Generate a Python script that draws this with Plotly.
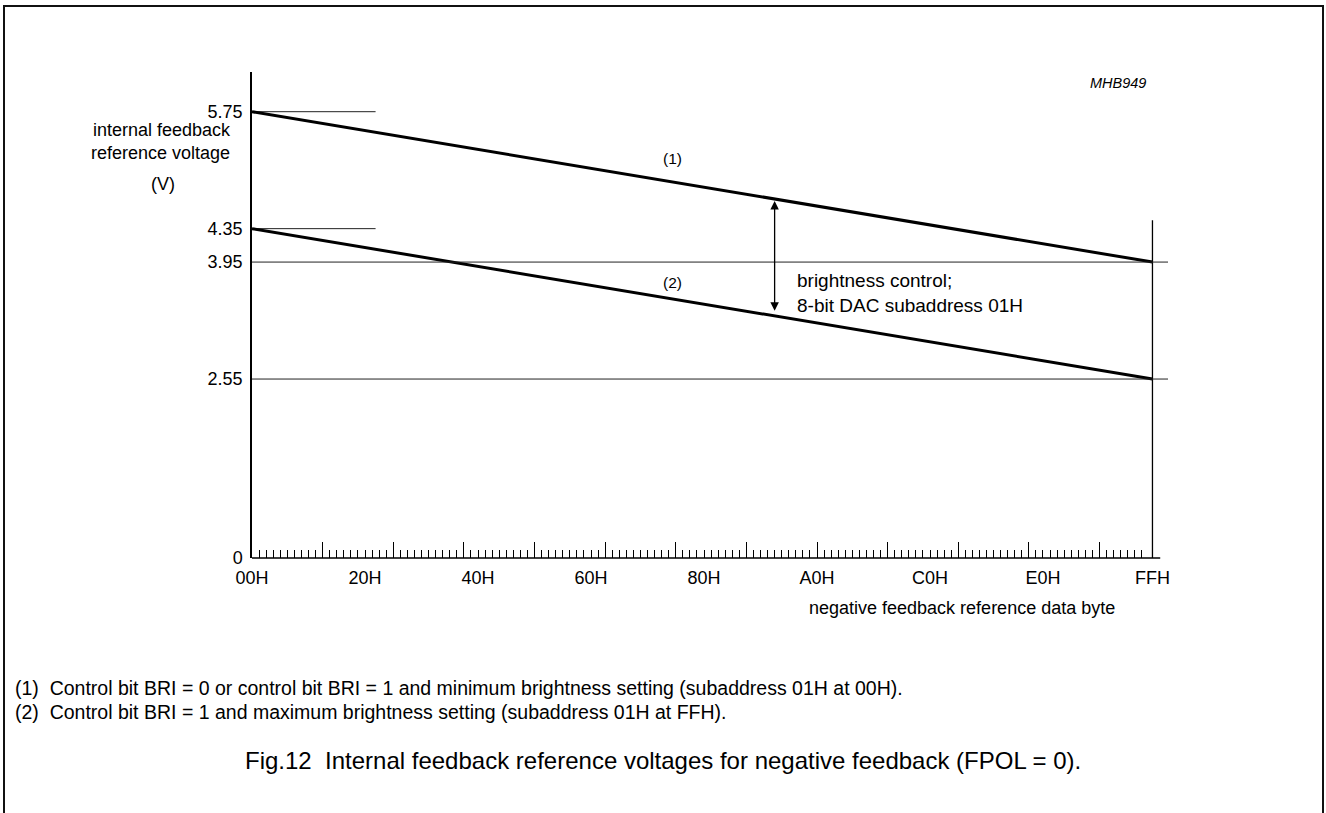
import plotly.graph_objects as go

# ---------------- data ----------------
codes = [0, 255]                      # 00H .. FFH
curve1_v = [5.75, 3.95]               # (1)
curve2_v = [4.35, 2.55]               # (2)
long_ref_levels = [3.95, 2.55]        # long horizontal reference lines
short_ref_levels = [5.75, 4.35]       # short start-level marker lines
y_tick_vals = [5.75, 4.35, 3.95, 2.55]
y_tick_text = ["5.75", "4.35", "3.95", "2.55"]
x_label_vals = [0, 32, 64, 96, 128, 160, 192, 224, 255]
x_label_text = ["00H", "20H", "40H", "60H", "80H", "A0H", "C0H", "E0H", "FFH"]
major_ticks = list(range(0, 241, 20))
minor_ticks = [v for v in range(2, 253, 2) if v % 20]
arrow_code = 148
arrow_top, arrow_bottom = 4.68, 3.35

# ---------------- geometry / style ----------------
W, H = 1326, 813
PL, PR, PT, PB = 252, 1168, 72, 557.7
Y0 = 0.408          # axis-break position carrying the "0" label
Y_TOP = 6.225
X_MAX = 259.4
FONT = "Liberation Sans, Arial, sans-serif"
THIN = "#222222"
AX_FS = 18

def px_x(px):
    return (px - PL) / (PR - PL)

def px_y(py):
    return (PB - py) / (PB - PT)

fig = go.Figure()

# long reference lines
for lv in long_ref_levels:
    fig.add_trace(go.Scatter(x=[0, X_MAX], y=[lv, lv], mode="lines",
                             line=dict(color=THIN, width=1), hoverinfo="skip",
                             showlegend=False, xaxis="x2", yaxis="y"))
# short marker lines
for lv in short_ref_levels:
    fig.add_trace(go.Scatter(x=[0, 35], y=[lv, lv], mode="lines",
                             line=dict(color=THIN, width=1), hoverinfo="skip",
                             showlegend=False))
# vertical line at FFH
fig.add_trace(go.Scatter(x=[codes[1], codes[1]], y=[4.452, Y0], mode="lines",
                         line=dict(color="black", width=1.3), hoverinfo="skip",
                         showlegend=False))
# the two curves
fig.add_trace(go.Scatter(x=codes, y=curve1_v, mode="lines",
                         line=dict(color="black", width=3), showlegend=False))
fig.add_trace(go.Scatter(x=codes, y=curve2_v, mode="lines",
                         line=dict(color="black", width=3), showlegend=False))

def note(px, py, text, size, xanchor="center", align="center"):
    return dict(x=px_x(px), y=px_y(py), xref="paper", yref="paper",
                xanchor=xanchor, yanchor="middle", align=align, text=text,
                showarrow=False, font=dict(size=size, color="black", family=FONT))

annotations = [
    dict(x=arrow_code, y=arrow_top, ax=arrow_code, ay=arrow_bottom,
         xref="x", yref="y", axref="x", ayref="y", text="",
         showarrow=True, arrowhead=2, arrowside="end+start", arrowsize=1.3,
         arrowwidth=1.3, arrowcolor="black"),
    dict(x=119.2, y=5.195, xref="x", yref="y", xanchor="center", yanchor="middle",
         text="(1)", showarrow=False, font=dict(size=15.5, color="black", family=FONT)),
    dict(x=119.2, y=3.71, xref="x", yref="y", xanchor="center", yanchor="middle",
         text="(2)", showarrow=False, font=dict(size=15.5, color="black", family=FONT)),
    dict(x=153.7, y=3.578, xref="x", yref="y", xanchor="left", yanchor="middle",
         align="left", text="brightness control;<br>8-bit DAC subaddress 01H",
         showarrow=False, font=dict(size=19, color="black", family=FONT)),
    note(1148, 83, "<i>MHB949</i>", 14.5, xanchor="right"),
    note(233, 141.5, "internal feedback<br>reference voltage", AX_FS,
         xanchor="right", align="right"),
    note(163, 184, "(V)", AX_FS),
    note(962, 608, "negative feedback reference data byte", AX_FS),
    note(13, 688, "(1)&nbsp;&nbsp;Control bit BRI = 0 or control bit BRI = 1 and minimum brightness setting (subaddress 01H at 00H).",
         19.5, xanchor="left", align="left"),
    note(13, 712, "(2)&nbsp;&nbsp;Control bit BRI = 1 and maximum brightness setting (subaddress 01H at FFH).",
         19.5, xanchor="left", align="left"),
    note(663, 760, "Fig.12  Internal feedback reference voltages for negative feedback (FPOL = 0).", 24),
]

shapes = [
    # x-axis baseline
    dict(type="line", xref="x", yref="paper", x0=0, x1=257.2, y0=0, y1=0,
         line=dict(color="black", width=1.5), layer="above"),
    # outer frame
    dict(type="rect", xref="paper", yref="paper",
         x0=px_x(4), x1=px_x(1323), y0=px_y(830), y1=px_y(6),
         line=dict(color="#111111", width=2)),
]

fig.update_layout(
    width=W, height=H,
    margin=dict(l=PL, r=W - PR, t=PT, b=H - PB, pad=0),
    paper_bgcolor="white", plot_bgcolor="white",
    font=dict(family=FONT, size=AX_FS, color="black"),
    showlegend=False,
    xaxis=dict(range=[0, X_MAX], showgrid=False, zeroline=False, showline=False,
               ticks="inside", tickmode="array", tickvals=major_ticks, ticklen=16,
               tickwidth=1, tickcolor="black", showticklabels=False,
               minor=dict(tickmode="array", tickvals=minor_ticks, ticks="inside",
                          ticklen=8, tickwidth=1, tickcolor="black")),
    xaxis2=dict(range=[0, X_MAX], overlaying="x", anchor="y", side="bottom",
                showgrid=False, zeroline=False, showline=False, ticks="",
                tickmode="array", tickvals=x_label_vals, ticktext=x_label_text,
                tickfont=dict(size=AX_FS, color="black", family=FONT),
                ticklabelstandoff=7),
    yaxis=dict(range=[Y0, Y_TOP], showgrid=False, zeroline=False, showline=True,
               linecolor="black", linewidth=1.5, ticks="",
               tickmode="array", tickvals=y_tick_vals + [Y0],
               ticktext=y_tick_text + ["0"],
               tickfont=dict(size=AX_FS, color="black", family=FONT),
               ticklabelstandoff=4),
    annotations=annotations,
    shapes=shapes,
)

fig.write_html("out.html", config={"displayModeBar": False},
               post_script="document.body.style.margin='0';")
